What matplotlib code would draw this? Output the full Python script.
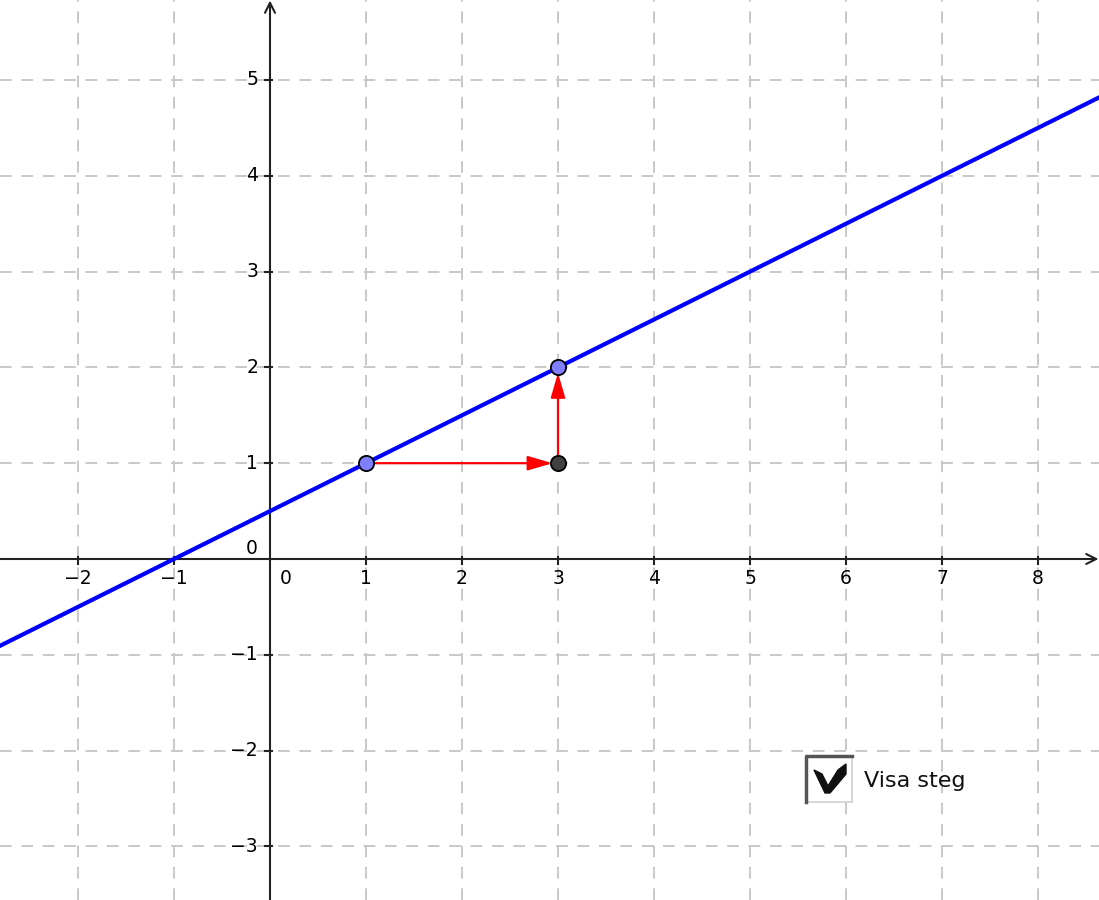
import numpy as np
import matplotlib
matplotlib.use("Agg")
import matplotlib.pyplot as plt
from matplotlib.patches import Rectangle, Polygon

# line y = k*x + m through the two points
k, m = 0.5, 0.5
point_x = [1, 3]
point_y = [1, 2]
corner = (3, 1)
x_ticks = [-2, -1, 1, 2, 3, 4, 5, 6, 7, 8]
y_ticks = [-3, -2, -1, 1, 2, 3, 4, 5]
checkbox_label = "Visa steg"

W, H = 1099, 900
x0_px, y0_px, ppu_x, ppu_y = 270, 559, 96.0, 95.8
xlim = (-x0_px / ppu_x, (W - x0_px) / ppu_x)
ylim = (-(H - y0_px) / ppu_y, y0_px / ppu_y)

fig = plt.figure(figsize=(W / 100, H / 100), dpi=100)
ax = fig.add_axes([0, 0, 1, 1])
ax.set_xlim(*xlim)
ax.set_ylim(*ylim)
ax.axis("off")

# grid
for xt in x_ticks:
    ax.axvline(xt, color="#c8c8c8", lw=1.4, ls=(0, (6, 5)), zorder=0)
for yt in y_ticks:
    ax.axhline(yt, color="#c8c8c8", lw=1.4, ls=(0, (6, 5)), zorder=0)

# axes with arrows
ax.annotate("", xy=(xlim[1] - 0.005, 0), xytext=(xlim[0], 0),
            arrowprops=dict(arrowstyle="->", lw=1.5, color="#222222",
                            mutation_scale=18, shrinkA=0, shrinkB=0), zorder=2)
ax.annotate("", xy=(0, ylim[1] - 0.005), xytext=(0, ylim[0]),
            arrowprops=dict(arrowstyle="->", lw=1.5, color="#222222",
                            mutation_scale=18, shrinkA=0, shrinkB=0), zorder=2)

tick_len_x = 5 / ppu_y
tick_len_y = 5 / ppu_x
for xt in x_ticks:
    ax.plot([xt, xt], [-tick_len_x, tick_len_x * 0.4], color="#222222", lw=1.5, zorder=2)
    ax.text(xt, -20 / ppu_y, str(xt).replace("-", "\u2212"), ha="center", va="center",
            fontsize=13.5, color="black")
for yt in y_ticks:
    ax.plot([-tick_len_y, tick_len_y * 0.4], [yt, yt], color="#222222", lw=1.5, zorder=2)
    ax.text(-12 / ppu_x, yt, str(yt).replace("-", "\u2212"), ha="right", va="center",
            fontsize=13.5, color="black")
ax.text(16 / ppu_x, -20 / ppu_y, "0", ha="center", va="center", fontsize=13.5)
ax.text(-12 / ppu_x, 11 / ppu_y, "0", ha="right", va="center", fontsize=13.5)

# blue line
xs = np.array(xlim)
ax.plot(xs, k * xs + m, color="#0000ff", lw=3, zorder=3)

# red step arrows
step_style = dict(arrowstyle="-|>,head_length=0.75,head_width=0.22", lw=1.6,
                  color="#ff0000", mutation_scale=20, shrinkA=0, shrinkB=4)
ax.annotate("", xy=corner, xytext=(point_x[0], point_y[0]),
            arrowprops=step_style, zorder=4)
ax.annotate("", xy=(point_x[1], point_y[1]), xytext=corner,
            arrowprops=step_style, zorder=4)

# points
ax.scatter(point_x, point_y, s=120, color="#7f7fff", edgecolors="black",
           linewidths=1.3, zorder=5)
ax.scatter([corner[0]], [corner[1]], s=120, color="#404040", edgecolors="black",
           linewidths=1.3, zorder=5)

# checkbox widget (figure pixel coords)
tr = fig.transFigure
bx, by, bw, bh = 806 / W, 1 - 802 / H, 46 / W, 46 / H
fig.patches.append(Rectangle((bx, by), bw, bh, transform=tr, facecolor="white",
                             edgecolor="#d0d0d0", lw=1.2, zorder=6))
fig.lines.append(plt.Line2D([bx, bx, bx + bw], [by, by + bh, by + bh], transform=tr,
                            color="#555555", lw=2.5, zorder=7))
check = np.array([[814, 770], [822, 774], [828, 786], [838, 770], [846, 764],
                  [846, 774], [830, 793], [825, 793]], float)
check[:, 0] /= W
check[:, 1] = 1 - check[:, 1] / H
fig.patches.append(Polygon(check, closed=True, transform=tr, facecolor="#111111",
                           edgecolor="#111111", zorder=8))
fig.text(864 / W, 1 - 781 / H, checkbox_label, ha="left", va="center", fontsize=16,
         color="#111111")

fig.savefig("out.png", dpi=100)
